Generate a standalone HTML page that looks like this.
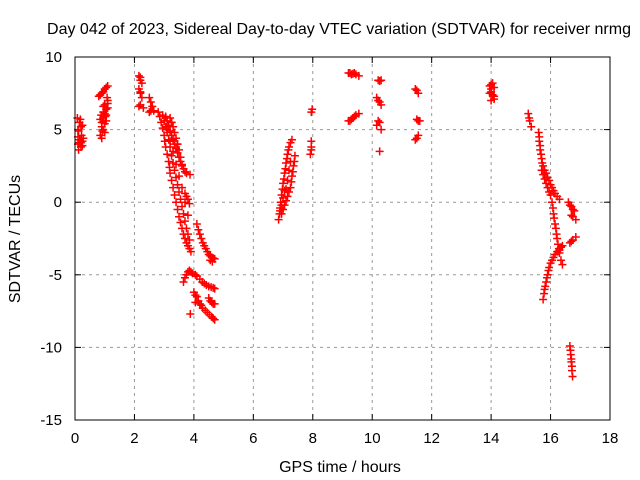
<!DOCTYPE html>
<html><head><meta charset="utf-8"><style>
body{margin:0;background:#fff}
svg{display:block;font-family:"Liberation Sans",sans-serif}
</style></head><body>
<svg id="chart" width="640" height="480">
<text x="339" y="34" text-anchor="middle" font-size="16">Day 042 of 2023, Sidereal Day-to-day VTEC variation (SDTVAR) for receiver nrmg</text>
<text x="0" y="0" transform="translate(20,239) rotate(-90)" text-anchor="middle" font-size="16">SDTVAR / TECUs</text>
<text x="340" y="472" text-anchor="middle" font-size="16">GPS time / hours</text>
<g id="grid"></g><g id="ticks"></g><g id="marks"></g>
<rect x="75" y="57" width="535" height="363" fill="none" stroke="#000"/>
</svg>
<script>
const xTicks=[0,2,4,6,8,10,12,14,16,18];
const yTicks=[-15,-10,-5,0,5,10];
const earlyPass=[[0.08,5.8],[0.15,5.5],[0.2,5.2],[0.12,4.9],[0.22,4.6],[0.15,4.3],[0.1,4.0],[0.25,3.9],[0.12,3.6],[0.2,4.1],[0.28,4.4],[0.1,5.0],[0.18,5.7],[0.25,5.3],[0.1,4.5],[0.2,3.8],[0.15,4.1],[0.25,4.2],
[0.8,7.3],[0.85,7.4],[0.9,7.5],[0.95,7.6],[1.0,7.8],[1.05,7.9],[1.1,8.0],[0.85,4.6],[0.9,5.2],[0.85,5.7],[0.95,6.2],[1.0,6.7],[1.1,7.0],[1.05,6.0],[0.95,5.0],[1.0,4.8],[1.1,6.5],[0.9,4.4],
[0.9,5.5],[0.95,5.8],[1.0,6.1],[1.05,6.4],[1.1,6.8],[0.95,6.6],[1.0,5.4],[1.05,5.6],[0.88,6.0],[1.08,7.2],[0.92,4.9],[1.02,5.9]];
const morningPass=[[2.15,8.7],[2.2,8.6],[2.2,8.4],[2.25,8.2],[2.15,7.8],[2.2,7.6],[2.2,7.5],[2.25,7.2],[2.15,6.6],[2.2,6.7],[2.3,6.5],[2.5,7.2],[2.55,6.9],[2.6,6.6],[2.5,6.2],[2.55,6.3],[2.65,6.3],
[2.8,6.2],[2.85,5.9],[2.9,5.5],[2.95,5.1],[3.0,4.6],[3.02,4.2],[3.05,3.8],[3.1,3.3],[3.15,2.8],[3.18,2.4],[3.2,2.0],[3.25,1.5],[3.3,1.0],[3.35,0.5],[3.4,0.0],[3.45,-0.5],[3.5,-1.0],[3.55,-1.4],[3.6,-1.8],[3.65,-2.2],[3.7,-2.5],[3.75,-2.8],[3.8,-3.0],[3.85,-3.2],[3.9,-3.4],
[2.95,6.0],[3.0,5.6],[3.05,5.2],[3.1,4.8],[3.15,4.3],[3.2,3.8],[3.25,3.2],[3.3,2.7],[3.35,2.2],[3.4,1.7],[3.45,1.2],[3.5,0.7],[3.55,0.2],[3.6,-0.3],[3.65,-0.8],[3.7,-1.3],[3.75,-1.8],[3.8,-2.2],[3.85,-2.6],
[3.05,5.9],[3.1,5.6],[3.15,5.3],[3.2,4.9],[3.25,4.6],[3.3,4.3],[3.35,4.0],[3.4,3.7],[3.45,3.4],[3.5,3.1],[3.55,2.8],[3.6,2.5],[3.65,2.3],[3.7,2.1],[3.75,2.0],[3.87,1.9],[3.7,0.6],[3.75,0.4],[3.8,0.2],[3.85,-0.1],
[3.2,5.8],[3.25,5.5],[3.3,5.2],[3.35,4.8],[3.4,4.4],[3.45,4.0],[3.5,3.6],[3.55,3.1],[3.6,2.6],[3.25,5.5],[3.45,4.0],[3.1,5.0],[3.2,4.2],[3.3,3.5],[3.4,2.6],[3.5,1.8],[3.6,1.0],[3.7,0.0],[3.8,-0.9],
[4.1,-1.5],[4.15,-1.9],[4.2,-2.2],[4.25,-2.5],[4.3,-2.8],[4.35,-3.0],[4.4,-3.2],[4.45,-3.4],[4.5,-3.6],[4.55,-3.7],[4.6,-3.8],[4.65,-3.85],[4.7,-3.9],[4.55,-4.0],[4.62,-4.1],
[3.65,-5.5],[3.7,-5.2],[3.75,-5.0],[3.8,-4.8],[3.85,-4.7],[3.9,-4.8],[3.95,-4.9],[4.05,-5.0],[4.1,-5.1],[4.2,-5.3],[4.28,-5.5],[4.35,-5.6],[4.42,-5.7],[4.5,-5.8],[4.58,-5.85],[4.65,-5.9],[4.7,-5.95],
[4.0,-6.2],[4.05,-6.4],[4.1,-6.5],[4.05,-6.9],[4.15,-6.8],[4.2,-7.0],[4.25,-7.1],[4.3,-7.3],[4.38,-7.45],[4.45,-7.6],[4.52,-7.75],[4.6,-7.9],[4.65,-8.0],[4.7,-8.1],[4.5,-6.6],[4.55,-6.8],[4.6,-6.9],[4.65,-7.0],[4.7,-7.0],[3.88,-7.7]];
const middayPass=[[6.85,-1.2],[6.88,-0.8],[6.9,-0.4],[6.92,0.0],[6.95,0.5],[6.98,0.9],[7.0,1.3],[7.03,1.6],[7.05,2.0],[7.08,2.3],[7.1,2.7],[7.13,3.0],[7.15,3.3],[7.18,3.6],[7.2,3.8],[7.25,4.1],[7.3,4.3],
[6.95,-0.8],[7.0,-0.5],[7.05,-0.2],[7.1,0.1],[7.15,0.4],[7.2,0.7],[7.25,1.0],[7.28,1.4],[7.3,1.8],[7.33,2.1],[7.35,2.5],[7.38,2.8],[7.4,3.2],[6.9,-0.6],[7.1,0.9],[7.2,2.2],[7.0,0.3],[7.15,1.5],[6.95,-0.2],[7.05,0.8],[7.25,2.8],
[7.92,3.3],[7.95,3.6],[7.95,3.8],[7.95,4.2],[7.95,6.2],[7.98,6.4],
[9.2,8.9],[9.25,8.9],[9.3,8.8],[9.35,8.85],[9.4,8.9],[9.45,8.8],[9.55,8.7],[9.2,5.6],[9.25,5.6],[9.3,5.7],[9.35,5.8],[9.4,5.9],[9.45,6.0],[9.55,6.1],
[10.2,8.4],[10.25,8.35],[10.3,8.4],[10.15,7.2],[10.2,7.0],[10.25,6.9],[10.3,6.7],[10.15,5.3],[10.2,5.6],[10.25,5.5],[10.3,5.0],[10.25,3.5],
[11.45,7.8],[11.5,7.7],[11.55,7.5],[11.5,5.7],[11.55,5.6],[11.6,5.6],[11.45,4.3],[11.5,4.4],[11.55,4.6]];
const eveningPass=[[13.95,8.0],[14.0,8.1],[14.05,8.2],[14.0,7.8],[14.0,7.6],[14.05,7.4],[14.1,7.3],[14.0,7.0],[14.1,7.9],[13.95,7.5],[14.1,7.1],
[15.25,6.1],[15.28,5.8],[15.3,5.6],[15.35,5.2],[15.6,4.8],[15.62,4.5],[15.62,4.2],[15.65,3.9],[15.65,3.6],[15.68,3.3],[15.7,3.0],[15.72,2.7],[15.75,2.5],[15.8,2.2],[15.85,2.0],[15.9,1.7],[15.95,1.5],[16.0,1.2],[16.05,1.0],[16.1,0.8],[16.15,0.6],[16.22,0.4],[16.3,0.2],
[15.7,2.2],[15.75,1.9],[15.8,1.6],[15.85,1.3],[15.9,1.0],[15.95,0.7],[16.0,0.5],[16.05,0.0],[16.08,-0.4],[16.1,-0.8],[16.12,-1.1],[16.15,-1.5],[16.18,-1.8],[16.2,-2.2],[16.22,-2.5],[16.25,-2.9],[16.28,-3.2],[16.3,-3.5],[16.35,-4.0],[16.4,-4.3],
[15.75,-6.7],[15.78,-6.3],[15.8,-6.0],[15.82,-5.8],[15.85,-5.5],[15.88,-5.2],[15.9,-5.0],[15.93,-4.7],[15.95,-4.5],[16.0,-4.2],[16.05,-4.0],[16.1,-3.8],[16.15,-3.6],[16.22,-3.4],[16.3,-3.3],[16.35,-3.1],[16.4,-3.0],
[16.6,0.0],[16.65,-0.2],[16.7,-0.3],[16.75,-0.5],[16.8,-0.6],[16.7,-0.9],[16.75,-1.0],[16.85,-1.2],[16.65,-2.8],[16.7,-2.7],[16.75,-2.6],[16.85,-2.4],
[16.65,-9.9],[16.67,-10.2],[16.68,-10.5],[16.7,-10.8],[16.7,-11.0],[16.72,-11.3],[16.72,-11.6],[16.74,-12.0]];
const X=t=>75+t*(535/18), Y=v=>57+(10-v)*(363/25);
const NS='http://www.w3.org/2000/svg';
const grid=document.getElementById('grid'),ticks=document.getElementById('ticks'),marks=document.getElementById('marks');
function mk(tag,attrs,parent){const e=document.createElementNS(NS,tag);for(const k in attrs)e.setAttribute(k,attrs[k]);parent.appendChild(e);return e;}
xTicks.forEach(t=>{const x=X(t);
 if(t>0&&t<18){const g=mk('line',{x1:x,x2:x,y1:57,y2:420,stroke:'#999','stroke-dasharray':'3,4'},grid);
 
 }
 mk('line',{x1:x,x2:x,y1:420,y2:414,stroke:'#000'},ticks);mk('line',{x1:x,x2:x,y1:57,y2:63,stroke:'#000'},ticks);
 const l=mk('text',{x:x,y:443,'text-anchor':'middle','font-size':15},ticks);l.textContent=t;
 
 });
yTicks.forEach(v=>{const y=Y(v);
 if(v>-15&&v<10){const g=mk('line',{x1:75,x2:610,y1:y,y2:y,stroke:'#999','stroke-dasharray':'3,4'},grid);
 
 }
 mk('line',{x1:75,x2:81,y1:y,y2:y,stroke:'#000'},ticks);mk('line',{x1:604,x2:610,y1:y,y2:y,stroke:'#000'},ticks);
 const l=mk('text',{x:62,y:y+5,'text-anchor':'end','font-size':15},ticks);l.textContent=v;
 
 });
[earlyPass,morningPass,middayPass,eveningPass].forEach(arr=>arr.forEach(p=>{
 const x=X(p[0]),y=Y(p[1]);
 const m=mk('path',{d:`M${x-4} ${y}H${x+4}M${x} ${y-4}V${y+4}`,stroke:'#f00','stroke-width':1.5,fill:'none'},marks);
 
 }));
</script>
</body></html>
